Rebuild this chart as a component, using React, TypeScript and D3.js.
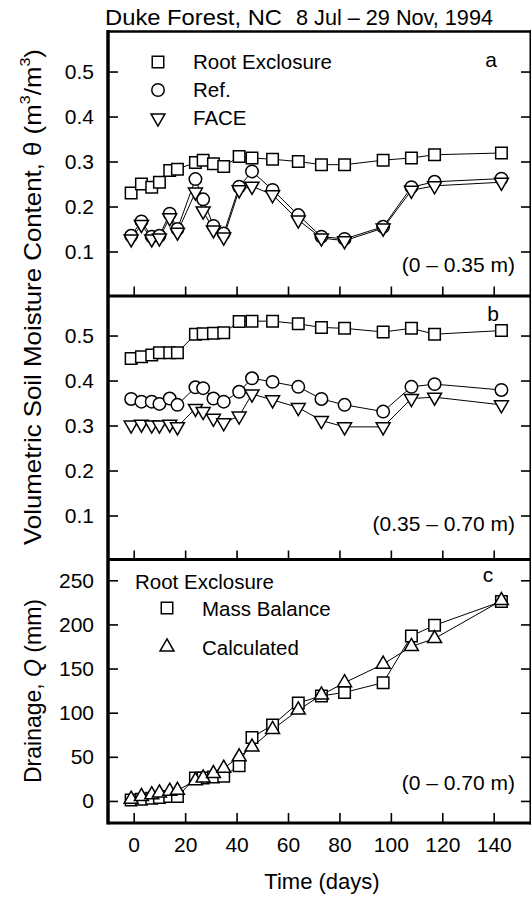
import * as d3 from 'd3';
import { useEffect, useRef } from 'react';

// sampling days (days after 8 Jul 1994)
const days = [-1, 3, 7, 10, 14, 17, 24, 27, 31, 35, 41, 46, 54, 64, 73, 82, 97, 108, 117, 143];

// panel a: 0 - 0.35 m
const rootA = [0.23, 0.25, 0.243, 0.254, 0.28, 0.283, 0.298, 0.303, 0.295, 0.289, 0.311, 0.308, 0.305, 0.3, 0.293, 0.293, 0.303, 0.308, 0.315, 0.319];
const refA = [0.135, 0.167, 0.133, 0.135, 0.184, 0.15, 0.261, 0.216, 0.157, 0.14, 0.244, 0.278, 0.237, 0.181, 0.133, 0.128, 0.155, 0.243, 0.255, 0.262];
const faceA = [0.128, 0.16, 0.128, 0.13, 0.175, 0.143, 0.232, 0.19, 0.148, 0.132, 0.237, 0.245, 0.226, 0.17, 0.13, 0.124, 0.152, 0.236, 0.246, 0.254];

// panel b: 0.35 - 0.70 m
const rootB = [0.449, 0.453, 0.457, 0.462, 0.462, 0.462, 0.503, 0.504, 0.505, 0.506, 0.531, 0.532, 0.532, 0.526, 0.518, 0.516, 0.508, 0.516, 0.503, 0.511];
const refB = [0.359, 0.353, 0.353, 0.348, 0.36, 0.346, 0.385, 0.383, 0.36, 0.353, 0.375, 0.405, 0.397, 0.386, 0.359, 0.346, 0.331, 0.386, 0.392, 0.379];
const faceB = [0.301, 0.303, 0.301, 0.301, 0.303, 0.297, 0.338, 0.331, 0.316, 0.306, 0.321, 0.37, 0.357, 0.34, 0.311, 0.297, 0.297, 0.36, 0.363, 0.346];

// panel c: drainage (mm)
const massBalance = [1, 2, 3, 4, 5, 5, 26, 26, 27, 28, 40, 72, 86, 111, 119, 123, 134, 187, 199, 226];
const calculated = [2, 5, 7, 9, 11, 12, 23, 26, 31, 37, 50, 61, 81, 103, 120, 134, 155, 175, 184, 227];

const thetaTicks = [0.1, 0.2, 0.3, 0.4, 0.5];
const drainTicks = [0, 50, 100, 150, 200, 250];
const dayTicks = [0, 20, 40, 60, 80, 100, 120, 140];

const FONT = 'Liberation Sans, Arial, Helvetica, sans-serif';

type Marker = 'square' | 'circle' | 'down' | 'up';

function markerPath(m: Marker) {
  if (m === 'square') return d3.symbol(d3.symbolSquare, 132)()!;
  if (m === 'circle') return d3.symbol(d3.symbolCircle, 122)()!;
  return d3.symbol(d3.symbolTriangle, 84)()!;
}

export default function App() {
  const svgRef = useRef<SVGSVGElement>(null);

  useEffect(() => {
    const svgEl = svgRef.current;
    if (!svgEl) return;
    const svg = d3.select(svgEl);
    svg.selectAll('*').remove();
    svg.attr('font-family', FONT);

    const left = 108;
    const right = 531;
    const x = d3.scaleLinear().domain([-10, 154.5]).range([left, right]);

    const panels = [
      {
        top: 31.5, bottom: 296.5, domain: [0, 0.589], ticks: thetaTicks, fmt: d3.format('.1f'),
        series: [
          { values: rootA, marker: 'square' as Marker },
          { values: refA, marker: 'circle' as Marker },
          { values: faceA, marker: 'down' as Marker },
        ],
        letter: 'a', letterX: 491, letterY: 67, depth: '(0 – 0.35 m)', depthY: 272, xLabels: false,
      },
      {
        top: 295.5, bottom: 560.5, domain: [0, 0.589], ticks: thetaTicks, fmt: d3.format('.1f'),
        series: [
          { values: rootB, marker: 'square' as Marker },
          { values: refB, marker: 'circle' as Marker },
          { values: faceB, marker: 'down' as Marker },
        ],
        letter: 'b', letterX: 493, letterY: 321, depth: '(0.35 – 0.70 m)', depthY: 531, xLabels: false,
      },
      {
        top: 558.5, bottom: 823, domain: [-25, 274.7], ticks: drainTicks, fmt: d3.format('d'),
        series: [
          { values: massBalance, marker: 'square' as Marker },
          { values: calculated, marker: 'up' as Marker },
        ],
        letter: 'c', letterX: 488, letterY: 582, depth: '(0 – 0.70 m)', depthY: 790, xLabels: true,
      },
    ];

    panels.forEach((p) => {
      const y = d3.scaleLinear().domain(p.domain).range([p.bottom, p.top]);
      const g = svg.append('g');

      const yAxis = d3.axisLeft(y).tickValues(p.ticks).tickFormat(p.fmt as any).tickSizeInner(-10).tickSizeOuter(0).tickPadding(14);
      const ga = g.append('g').attr('transform', `translate(${left},0)`).call(yAxis);
      ga.select('.domain').remove();
      ga.selectAll('line').attr('stroke', '#000').attr('stroke-width', 1.6);
      ga.selectAll('text').attr('font-size', 21).attr('font-family', FONT).attr('fill', '#000');

      const rAxis = d3.axisRight(y).tickValues(p.ticks).tickFormat(() => '').tickSizeInner(-10).tickSizeOuter(0);
      const gr = g.append('g').attr('transform', `translate(${right},0)`).call(rAxis);
      gr.select('.domain').remove();
      gr.selectAll('line').attr('stroke', '#000').attr('stroke-width', 1.6);

      const xAxis = d3.axisBottom(x).tickValues(dayTicks).tickSizeInner(-10).tickSizeOuter(0).tickPadding(14)
        .tickFormat(p.xLabels ? (d3.format('d') as any) : () => '');
      const gx = g.append('g').attr('transform', `translate(0,${p.bottom})`).call(xAxis);
      gx.select('.domain').remove();
      gx.selectAll('line').attr('stroke', '#000').attr('stroke-width', 1.6);
      gx.selectAll('text').attr('font-size', 21).attr('font-family', FONT).attr('fill', '#000');

      const line = d3.line<number>().x((_, i) => x(days[i])).y((d) => y(d));
      p.series.forEach((s) => {
        g.append('path').attr('d', line(s.values)).attr('fill', 'none').attr('stroke', '#000').attr('stroke-width', 1);
      });
      p.series.forEach((s) => {
        g.selectAll(null)
          .data(s.values)
          .join('path')
          .attr('d', markerPath(s.marker))
          .attr('transform', (d, i) => `translate(${x(days[i])},${y(d)})${s.marker === 'down' ? ' rotate(180)' : ''}`)
          .attr('fill', '#fff')
          .attr('stroke', '#000')
          .attr('stroke-width', 1.5);
      });

      g.append('text').attr('x', p.letterX).attr('y', p.letterY).attr('text-anchor', 'middle')
        .attr('font-size', 21).text(p.letter);
      g.append('text').attr('x', 515).attr('y', p.depthY).attr('text-anchor', 'end')
        .attr('font-size', 21).text(p.depth);
    });

    // frame
    const frame = svg.append('g').attr('stroke', '#000');
    frame.append('line').attr('x1', left).attr('x2', left).attr('y1', 30).attr('y2', 824.5).attr('stroke-width', 3.5);
    frame.append('line').attr('x1', right).attr('x2', right).attr('y1', 30).attr('y2', 824.5).attr('stroke-width', 3);
    [31.5, 296, 559.5, 823].forEach((yy, i) => {
      frame.append('line').attr('x1', left).attr('x2', right).attr('y1', yy).attr('y2', yy).attr('stroke-width', i === 0 ? 2.5 : 3.2);
    });

    // legends
    const legA = [
      { marker: 'square' as Marker, label: 'Root Exclosure', cy: 62 },
      { marker: 'circle' as Marker, label: 'Ref.', cy: 90 },
      { marker: 'down' as Marker, label: 'FACE', cy: 118 },
    ];
    legA.forEach((l) => {
      svg.append('path').attr('d', markerPath(l.marker))
        .attr('transform', `translate(158,${l.cy})${l.marker === 'down' ? ' rotate(180)' : ''}`)
        .attr('fill', '#fff').attr('stroke', '#000').attr('stroke-width', 1.5);
      svg.append('text').attr('x', 193).attr('y', l.cy + 7).attr('font-size', 20.5).text(l.label);
    });

    svg.append('text').attr('x', 135).attr('y', 589).attr('font-size', 20.5).text('Root Exclosure');
    const legC = [
      { marker: 'square' as Marker, label: 'Mass Balance', cy: 608 },
      { marker: 'up' as Marker, label: 'Calculated', cy: 647 },
    ];
    legC.forEach((l) => {
      svg.append('path').attr('d', markerPath(l.marker))
        .attr('transform', `translate(167,${l.cy})`)
        .attr('fill', '#fff').attr('stroke', '#000').attr('stroke-width', 1.5);
      svg.append('text').attr('x', 202).attr('y', l.cy + 8).attr('font-size', 20.5).text(l.label);
    });

    // title
    svg.append('text').attr('x', 105).attr('y', 25).attr('font-size', 22)
      .attr('textLength', 177).attr('lengthAdjust', 'spacingAndGlyphs').text('Duke Forest, NC');
    svg.append('text').attr('x', 296).attr('y', 25).attr('font-size', 22)
      .attr('textLength', 197).attr('lengthAdjust', 'spacingAndGlyphs').text('8 Jul – 29 Nov, 1994');

    // axis titles (condensed look via textLength)
    const yt = svg.append('text').attr('transform', 'translate(35,297) rotate(-90)')
      .attr('text-anchor', 'middle').attr('dominant-baseline', 'middle').attr('font-size', 24)
      .attr('textLength', 496).attr('lengthAdjust', 'spacingAndGlyphs');
    yt.append('tspan').text('Volumetric Soil Moisture Content, θ (m');
    yt.append('tspan').attr('baseline-shift', 'super').attr('font-size', 15).text('3');
    yt.append('tspan').text('/m');
    yt.append('tspan').attr('baseline-shift', 'super').attr('font-size', 15).text('3');
    yt.append('tspan').text(')');

    const dt = svg.append('text').attr('transform', 'translate(35,691) rotate(-90)')
      .attr('text-anchor', 'middle').attr('dominant-baseline', 'middle').attr('font-size', 24)
      .attr('textLength', 184).attr('lengthAdjust', 'spacingAndGlyphs');
    dt.append('tspan').text('Drainage, ');
    dt.append('tspan').attr('font-style', 'italic').text('Q');
    dt.append('tspan').text(' (mm)');

    svg.append('text').attr('x', 322).attr('y', 889).attr('text-anchor', 'middle').attr('font-size', 22).text('Time (days)');
  }, []);

  return (
    <svg
      ref={svgRef}
      width={531}
      height={897}
      style={{ position: 'absolute', left: 0, top: 0, background: '#fff' }}
      role="img"
      aria-label="Soil moisture and drainage, Duke Forest"
    />
  );
}
